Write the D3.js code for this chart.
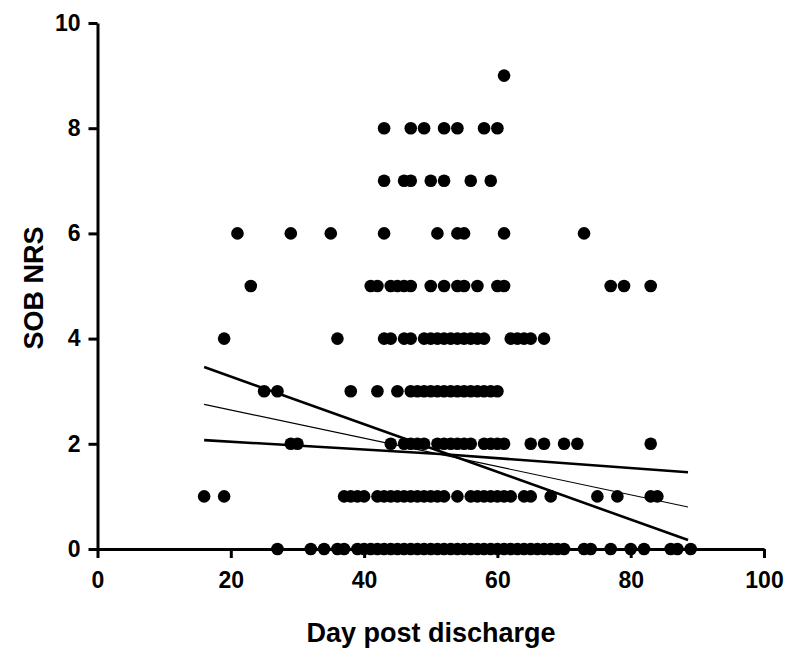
<!DOCTYPE html>
<html>
<head>
<meta charset="utf-8">
<script src="https://cdn.jsdelivr.net/npm/d3@7/dist/d3.min.js"></script>
<style>
  html, body { margin: 0; padding: 0; background: #fff; }
  svg { display: block; }
  text { font-family: "Liberation Sans", Arial, Helvetica, sans-serif; font-weight: bold; fill: #000; }
</style>
</head>
<body>
<svg id="chart" width="800" height="668"></svg>
<script>
// ---- Data ----
// Days post discharge for each SOB NRS score
const score0Days = [27,32,34,36,37,39,40,41,42,43,44,45,46,47,48,49,50,51,52,53,54,55,56,57,58,59,60,61,62,63,64,65,66,67,68,69,70,73,74,77,80,82,86,87,89];
const score1Days = [16,19,37,38,39,40,42,43,44,45,46,47,48,49,50,51,52,54,56,57,58,59,60,61,62,64,65,68,75,78,83,84];
const score2Days = [29,30,44,46,47,48,49,51,52,53,54,55,56,58,59,60,61,65,67,70,72,83];
const score3Days = [25,27,38,42,45,47,48,49,50,51,52,53,54,55,56,57,58,59,60];
const score4Days = [19,36,43,44,46,47,49,50,51,52,53,54,55,56,57,58,62,63,64,65,67];
const score5Days = [23,41,42,44,45,46,47,50,52,54,55,57,60,61,77,79,83];
const score6Days = [21,29,35,43,51,54,55,61,73];
const score7Days = [43,46,47,50,52,56,59];
const score8Days = [43,47,49,52,54,58,60];
const score9Days = [61];

// Linear fit and 95% confidence bands: [day, score]
const fitLine   = [[16, 2.75], [88.6, 0.80]];
const bandSteep = [[16, 3.46], [52, 1.83], [88.6, 0.17]];
const bandFlat  = [[16, 2.07], [52, 1.80], [88.6, 1.46]];

const xTicks = [0, 20, 40, 60, 80, 100];
const yTicks = [0, 2, 4, 6, 8, 10];
const xTitle = "Day post discharge";
const yTitle = "SOB NRS";

// ---- Build table ----
const byScore = [score0Days, score1Days, score2Days, score3Days, score4Days,
                 score5Days, score6Days, score7Days, score8Days, score9Days];
const points = [];
byScore.forEach((days, score) => days.forEach(d => points.push({day: d, score: score})));

// ---- Chart ----
const svg = d3.select("#chart");
const x = d3.scaleLinear().domain([0, 100]).range([97.5, 764]);
const y = d3.scaleLinear().domain([0, 10]).range([549, 23]);

// points
svg.append("g").selectAll("circle").data(points).join("circle")
  .attr("cx", d => x(d.day))
  .attr("cy", d => y(d.score))
  .attr("r", 6.3)
  .attr("fill", "#000");

// lines
const line = d3.line().x(d => x(d[0])).y(d => y(d[1]));
svg.append("path").attr("d", line(bandSteep)).attr("fill", "none").attr("stroke", "#000").attr("stroke-width", 2.6);
svg.append("path").attr("d", line(bandFlat)).attr("fill", "none").attr("stroke", "#000").attr("stroke-width", 2.6);
svg.append("path").attr("d", line(fitLine)).attr("fill", "none").attr("stroke", "#000").attr("stroke-width", 1.1);

// axes
const xAxis = svg.append("g").attr("transform", `translate(0,${y(0)})`)
  .call(d3.axisBottom(x).tickValues(xTicks).tickSize(9).tickSizeOuter(0).tickPadding(14));
const yAxis = svg.append("g").attr("transform", `translate(${x(0)},0)`)
  .call(d3.axisLeft(y).tickValues(yTicks).tickSize(9).tickSizeOuter(0).tickPadding(8));

[xAxis, yAxis].forEach(g => {
  g.select(".domain").attr("stroke", "#000").attr("stroke-width", 3);
  g.selectAll(".tick line").attr("stroke", "#000").attr("stroke-width", 3);
  g.selectAll(".tick text").attr("font-size", 23).attr("font-family", "Liberation Sans, Arial, sans-serif").attr("font-weight", "bold").attr("fill", "#000");
});

svg.append("text").attr("x", 431).attr("y", 642).attr("text-anchor", "middle")
  .attr("font-size", 27).text(xTitle);
svg.append("text").attr("transform", "translate(43,288) rotate(-90)").attr("text-anchor", "middle")
  .attr("font-size", 27).text(yTitle);
</script>
</body>
</html>
